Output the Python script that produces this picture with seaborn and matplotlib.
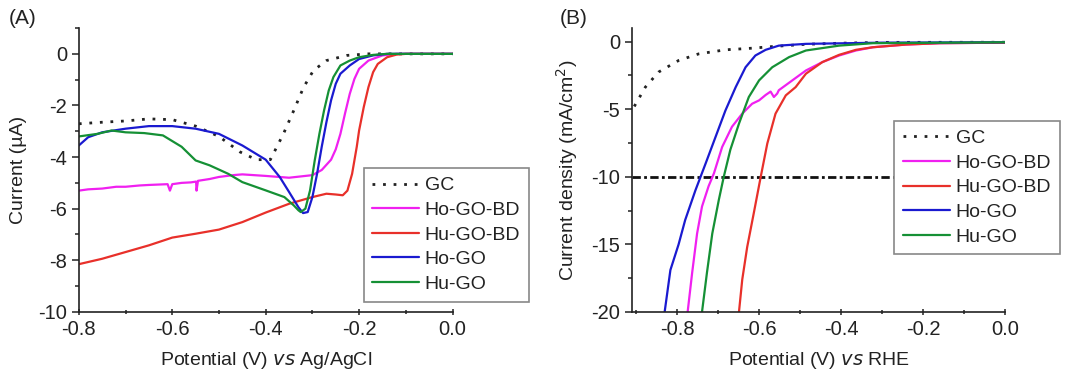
import numpy as np
import pandas as pd
import matplotlib
matplotlib.use("Agg")
import matplotlib.pyplot as plt
import seaborn as sns
from matplotlib.ticker import MultipleLocator

sns.set_theme(style="ticks")
plt.rcParams["font.family"] = ["Liberation Sans", "DejaVu Sans"]
plt.rcParams["text.color"] = "#222222"
plt.rcParams["axes.labelcolor"] = "#222222"
plt.rcParams["xtick.color"] = "#222222"
plt.rcParams["ytick.color"] = "#222222"

# --- Panel A: LSV vs Ag/AgCl (current in uA) ---
a_gc_x = [-0.8, -0.75, -0.7, -0.65, -0.6, -0.55, -0.5, -0.455, -0.42, -0.39, -0.376,
          -0.362, -0.34, -0.319, -0.298, -0.27, -0.226, -0.18, -0.1, 0.0]
a_gc_y = [-2.71, -2.65, -2.6, -2.52, -2.55, -2.8, -3.2, -3.8, -4.1, -4.1, -3.6,
          -3.1, -2.2, -1.3, -0.65, -0.26, -0.06, 0.0, 0.0, 0.0]

a_hogobd_x = [-0.8, -0.78, -0.75, -0.72, -0.7, -0.67, -0.65, -0.61, -0.605, -0.6, -0.58,
              -0.56, -0.549, -0.548, -0.545, -0.52, -0.5, -0.47, -0.45, -0.4, -0.35,
              -0.3, -0.28, -0.26, -0.25, -0.24, -0.23, -0.22, -0.21, -0.2, -0.18,
              -0.15, -0.12, 0.0]
a_hogobd_y = [-5.3, -5.25, -5.22, -5.15, -5.15, -5.1, -5.08, -5.05, -5.3, -5.05, -5.0,
              -4.98, -4.95, -5.3, -4.92, -4.85, -4.77, -4.7, -4.67, -4.73, -4.8,
              -4.7, -4.5, -4.1, -3.7, -3.1, -2.3, -1.55, -0.97, -0.58, -0.26,
              -0.06, 0.0, 0.0]

a_hugobd_x = [-0.8, -0.75, -0.7, -0.65, -0.6, -0.55, -0.5, -0.45, -0.4, -0.35, -0.3,
              -0.27, -0.25, -0.235, -0.225, -0.215, -0.205, -0.2, -0.19, -0.18, -0.17,
              -0.16, -0.14, -0.12, -0.1, 0.0]
a_hugobd_y = [-8.15, -7.94, -7.68, -7.42, -7.12, -6.97, -6.81, -6.52, -6.15, -5.81, -5.55,
              -5.42, -5.45, -5.48, -5.3, -4.65, -3.6, -2.97, -2.06, -1.29, -0.71,
              -0.39, -0.13, -0.03, 0.0, 0.0]

a_hogo_x = [-0.8, -0.78, -0.75, -0.7, -0.65, -0.6, -0.55, -0.5, -0.45, -0.4, -0.37,
            -0.35, -0.33, -0.32, -0.31, -0.3, -0.29, -0.28, -0.27, -0.26, -0.25, -0.24,
            -0.22, -0.2, -0.17, -0.14, 0.0]
a_hogo_y = [-3.55, -3.23, -3.04, -2.9, -2.8, -2.8, -2.9, -3.1, -3.55, -4.1, -4.77,
            -5.35, -5.94, -6.17, -6.13, -5.55, -4.65, -3.6, -2.65, -1.8, -1.16, -0.77,
            -0.45, -0.2, -0.06, 0.0, 0.0]

a_hugo_x = [-0.8, -0.76, -0.73, -0.7, -0.66, -0.62, -0.58, -0.55, -0.52, -0.48, -0.45,
            -0.4, -0.36, -0.34, -0.33, -0.325, -0.315, -0.305, -0.295, -0.285, -0.275,
            -0.265, -0.255, -0.24, -0.22, -0.2, -0.17, -0.14, 0.0]
a_hugo_y = [-3.2, -3.1, -2.97, -3.04, -3.07, -3.16, -3.6, -4.13, -4.32, -4.65, -4.97,
            -5.29, -5.55, -5.87, -6.06, -6.13, -6.0, -5.29, -4.13, -3.1, -2.19,
            -1.42, -0.9, -0.45, -0.26, -0.13, -0.04, 0.0, 0.0]

# --- Panel B: LSV vs RHE (current density in mA/cm2) ---
b_gc_x = [-0.904, -0.877, -0.845, -0.796, -0.747, -0.682, -0.617, -0.568, -0.486, -0.4, -0.3, 0.0]
b_gc_y = [-4.8, -3.37, -2.26, -1.4, -0.91, -0.61, -0.49, -0.37, -0.2, -0.12, -0.06, -0.05]

b_hogobd_x = [-0.774, -0.763, -0.751, -0.739, -0.723, -0.71, -0.69, -0.666, -0.641, -0.617,
              -0.6, -0.584, -0.572, -0.564, -0.556, -0.552, -0.519, -0.486, -0.446, -0.405,
              -0.364, -0.323, -0.242, -0.16, 0.0]
b_hogobd_y = [-20.0, -17.1, -14.2, -12.2, -10.7, -9.75, -7.8, -6.3, -5.33, -4.6,
              -4.35, -3.95, -3.7, -4.1, -3.85, -3.6, -2.87, -2.14, -1.52, -1.03,
              -0.66, -0.42, -0.22, -0.12, -0.08]

b_hugobd_x = [-0.649, -0.641, -0.629, -0.613, -0.596, -0.58, -0.56, -0.535, -0.511, -0.486,
              -0.446, -0.405, -0.364, -0.323, -0.242, -0.16, 0.0]
b_hugobd_y = [-20.0, -17.6, -15.2, -12.7, -10.0, -7.54, -5.33, -3.98, -3.37, -2.38,
              -1.52, -0.98, -0.61, -0.42, -0.22, -0.12, -0.08]

b_hogo_x = [-0.83, -0.816, -0.796, -0.78, -0.755, -0.73, -0.706, -0.682, -0.657, -0.633,
            -0.609, -0.584, -0.552, -0.486, -0.3, 0.0]
b_hogo_y = [-20.0, -16.9, -15.0, -13.2, -11.0, -9.0, -7.05, -5.1, -3.37, -1.9,
            -1.03, -0.61, -0.3, -0.17, -0.08, -0.05]

b_hugo_x = [-0.739, -0.727, -0.714, -0.698, -0.686, -0.67, -0.649, -0.625, -0.6, -0.568,
            -0.527, -0.486, -0.405, -0.323, 0.0]
b_hugo_y = [-20.0, -17.1, -14.2, -11.7, -10.0, -8.0, -6.07, -4.1, -2.87, -1.9,
            -1.15, -0.66, -0.3, -0.12, -0.05]

b_ref_level = -10

labels = ["GC", "Ho-GO-BD", "Hu-GO-BD", "Ho-GO", "Hu-GO"]
colors = ["#222222", "#f020f0", "#e8302a", "#1a1ad0", "#159035"]
styles = [(0, (1, 2.8)), "-", "-", "-", "-"]
widths = [2.0, 1.6, 1.6, 1.6, 1.6]

panel_a = [(a_gc_x, a_gc_y), (a_hogobd_x, a_hogobd_y), (a_hugobd_x, a_hugobd_y),
           (a_hogo_x, a_hogo_y), (a_hugo_x, a_hugo_y)]
panel_b = [(b_gc_x, b_gc_y), (b_hogobd_x, b_hogobd_y), (b_hugobd_x, b_hugobd_y),
           (b_hogo_x, b_hogo_y), (b_hugo_x, b_hugo_y)]

fig = plt.figure(figsize=(10.8, 3.74), dpi=100)
ax_a = fig.add_axes([0.073, 0.166, 0.346, 0.759])
ax_b = fig.add_axes([0.585, 0.166, 0.346, 0.759])


def draw_panel(ax, series):
    for (xs, ys), lab, c, ls, lw in zip(series, labels, colors, styles, widths):
        df = pd.DataFrame({"x": xs, "y": ys})
        sns.lineplot(data=df, x="x", y="y", ax=ax, color=c, lw=lw,
                     label=lab, sort=False, estimator=None)
        ax.lines[-1].set_linestyle(ls)
    for side in ["top", "right"]:
        ax.spines[side].set_visible(False)
    for side in ["left", "bottom"]:
        ax.spines[side].set_color("#222222")
        ax.spines[side].set_linewidth(1.2)
    ax.tick_params(axis="both", which="major", labelsize=14.5, length=5, width=1.1)
    ax.tick_params(axis="both", which="minor", length=3, width=1.1)
    ax.tick_params(axis="x", which="both", direction="inout")


draw_panel(ax_a, panel_a)
ax_a.set_xlim(-0.8, 0.0)
ax_a.set_ylim(-10, 1)
ax_a.xaxis.set_minor_locator(MultipleLocator(0.1))
ax_a.yaxis.set_minor_locator(MultipleLocator(1))
ax_a.set_xticks([-0.8, -0.6, -0.4, -0.2, 0.0], ["-0.8", "-0.6", "-0.4", "-0.2", "0.0"])
ax_a.set_yticks([0, -2, -4, -6, -8, -10], ["0", "-2", "-4", "-6", "-8", "-10"])
ax_a.set_xlabel("Potential (V) $\\it{vs}$ Ag/AgCl", fontsize=14, labelpad=8)
ax_a.set_ylabel("Current (\u00b5A)", fontsize=14, labelpad=8)

draw_panel(ax_b, panel_b)
ax_b.axhline(b_ref_level, color="#111111", lw=2.0, ls=(0, (3, 1.2, 1, 1.2)), zorder=1)
ax_b.set_xlim(-0.91, 0.0)
ax_b.set_ylim(-20, 1)
ax_b.xaxis.set_minor_locator(MultipleLocator(0.1))
ax_b.yaxis.set_minor_locator(MultipleLocator(2.5))
ax_b.set_xticks([-0.8, -0.6, -0.4, -0.2, 0.0], ["-0.8", "-0.6", "-0.4", "-0.2", "0.0"])
ax_b.set_yticks([0, -5, -10, -15, -20], ["0", "-5", "-10", "-15", "-20"])
ax_b.set_xlabel("Potential (V) $\\it{vs}$ RHE", fontsize=14, labelpad=8)
ax_b.set_ylabel("Current density (mA/cm$^2$)", fontsize=14, labelpad=8)

for ax, anchor in [(ax_a, (0.762, 0.507)), (ax_b, (0.703, 0.673))]:
    leg = ax.legend(loc="upper left", bbox_to_anchor=anchor, fontsize=14,
                    frameon=True, fancybox=False, handlelength=2.4,
                    handletextpad=0.3, labelspacing=0.36, borderpad=0.45,
                    borderaxespad=0)
    leg.get_frame().set_edgecolor("#888888")
    leg.get_frame().set_linewidth(1.2)
    leg.get_frame().set_alpha(1)
    leg.set_zorder(5)

fig.text(0.008, 0.935, "(A)", fontsize=15)
fig.text(0.518, 0.935, "(B)", fontsize=15)

fig.savefig("out.png", dpi=100)
